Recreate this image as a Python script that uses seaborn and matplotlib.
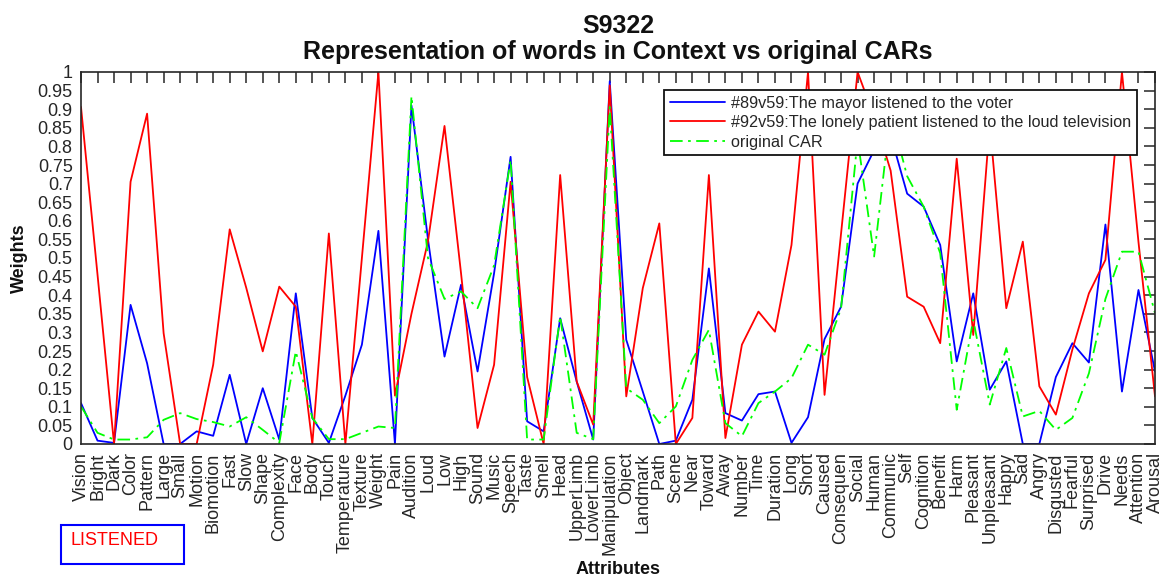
import numpy as np
import pandas as pd
import matplotlib
matplotlib.use("Agg")
import matplotlib.pyplot as plt
from matplotlib.patches import Rectangle
import seaborn as sns

# Attribute names along the x axis
attributes = [
    "Vision", "Bright", "Dark", "Color", "Pattern", "Large", "Small", "Motion",
    "Biomotion", "Fast", "Slow", "Shape", "Complexity", "Face", "Body", "Touch",
    "Temperature", "Texture", "Weight", "Pain", "Audition", "Loud", "Low", "High",
    "Sound", "Music", "Speech", "Taste", "Smell", "Head", "UpperLimb", "LowerLimb",
    "Manipulation", "Object", "Landmark", "Path", "Scene", "Near", "Toward", "Away",
    "Number", "Time", "Duration", "Long", "Short", "Caused", "Consequen", "Social",
    "Human", "Communic", "Self", "Cognition", "Benefit", "Harm", "Pleasant",
    "Unpleasant", "Happy", "Sad", "Angry", "Disgusted", "Fearful", "Surprised",
    "Drive", "Needs", "Attention", "Arousal",
]

# Weights for "#89v59: The mayor listened to the voter"
mayor_weights = [
    0.110, 0.009, 0.003, 0.374, 0.217, 0.000, 0.000, 0.034, 0.022, 0.186,
    0.000, 0.150, 0.012, 0.405, 0.070, 0.003, 0.130, 0.267, 0.573, 0.000,
    0.910, 0.550, 0.235, 0.428, 0.195, 0.459, 0.772, 0.061, 0.034, 0.338,
    0.168, 0.012, 0.975, 0.280, 0.141, 0.000, 0.009, 0.119, 0.472, 0.083,
    0.063, 0.134, 0.141, 0.003, 0.072, 0.282, 0.369, 0.700, 0.790, 0.830,
    0.673, 0.638, 0.535, 0.222, 0.405, 0.146, 0.222, 0.000, 0.000, 0.180,
    0.271, 0.219, 0.590, 0.141, 0.414, 0.195,
]

# Weights for "#92v59: The lonely patient listened to the loud television"
patient_weights = [
    0.906, 0.455, 0.000, 0.705, 0.888, 0.298, 0.000, 0.000, 0.213, 0.577,
    0.420, 0.249, 0.423, 0.369, 0.000, 0.566, 0.000, 0.500, 1.000, 0.130,
    0.350, 0.545, 0.855, 0.459, 0.043, 0.213, 0.705, 0.180, 0.000, 0.723,
    0.168, 0.052, 0.964, 0.128, 0.419, 0.593, 0.000, 0.070, 0.723, 0.016,
    0.267, 0.356, 0.302, 0.535, 1.000, 0.132, 0.566, 1.000, 0.880, 0.735,
    0.396, 0.369, 0.271, 0.767, 0.293, 0.860, 0.365, 0.544, 0.155, 0.079,
    0.254, 0.405, 0.495, 1.000, 0.543, 0.128,
]

# Original CAR weights of the word
car_weights = [
    0.101, 0.030, 0.012, 0.012, 0.018, 0.065, 0.083, 0.067, 0.059, 0.047,
    0.072, 0.038, 0.003, 0.249, 0.070, 0.013, 0.013, 0.030, 0.047, 0.043,
    0.935, 0.500, 0.390, 0.410, 0.365, 0.480, 0.763, 0.012, 0.012, 0.343,
    0.030, 0.013, 0.906, 0.150, 0.119, 0.056, 0.101, 0.226, 0.307, 0.056,
    0.021, 0.110, 0.141, 0.177, 0.267, 0.240, 0.365, 0.820, 0.504, 0.890,
    0.720, 0.638, 0.513, 0.092, 0.334, 0.106, 0.258, 0.074, 0.089, 0.038,
    0.070, 0.190, 0.390, 0.517, 0.517, 0.352,
]

series_labels = [
    "#89v59:The mayor listened to the voter",
    "#92v59:The lonely patient listened to the loud television",
    "original CAR",
]
y_ticks = [round(0.05 * k, 2) for k in range(21)]

sns.set_theme(style="white")
plt.rcParams["font.family"] = ["Liberation Sans", "DejaVu Sans"]
plt.rcParams["axes.edgecolor"] = "#262626"
plt.rcParams["text.color"] = "#262626"
plt.rcParams["xtick.color"] = "#262626"
plt.rcParams["ytick.color"] = "#262626"
plt.rcParams["axes.labelcolor"] = "#111111"

W, H = 1162, 582
fig = plt.figure(figsize=(W / 100, H / 100), dpi=100)
ax = fig.add_axes([81 / W, 1 - 444 / H, (1155 - 81) / W, (444 - 72) / H])

pos = np.arange(1, len(attributes) + 1)
frames = [
    pd.DataFrame({"pos": pos, "weight": mayor_weights}),
    pd.DataFrame({"pos": pos, "weight": patient_weights}),
    pd.DataFrame({"pos": pos, "weight": car_weights}),
]
colors = ["#0000ff", "#ff0000", "#00ff00"]

for df, col, lab in zip(frames, colors, series_labels):
    sns.lineplot(data=df, x="pos", y="weight", color=col, lw=1.3,
                 label=lab, ax=ax, estimator=None)
ax.lines[2].set_dashes((7, 3, 1.5, 3))

ax.set_xlim(1, len(attributes))
ax.set_ylim(0, 1)
ax.set_xticks(pos)
ax.set_xticklabels(attributes, rotation=90, fontsize=13, ha="center")
ax.set_yticks(y_ticks)
ax.set_yticklabels([f"{v:g}" for v in y_ticks], fontsize=13)
ax.tick_params(axis="both", which="major", direction="in", length=8,
               width=1.1, top=True, right=True)
ax.tick_params(axis="x", pad=6)
ax.tick_params(axis="y", pad=6)
for sp in ax.spines.values():
    sp.set_linewidth(1.2)
    sp.set_visible(True)

ax.set_xlabel("Attributes", fontsize=13, fontweight="bold")
ax.set_ylabel("Weights", fontsize=13, fontweight="bold")
ax.xaxis.set_label_coords(0.5, (444 - 561) / 372)
ax.yaxis.set_label_coords((28 - 81) / 1074, 0.5)

ax.set_title("S9322\nRepresentation of words in Context vs original CARs",
             fontsize=18, fontweight="bold", pad=9, color="#111111",
             linespacing=1.15)

leg = ax.legend(loc="upper right", bbox_to_anchor=(0.983, 0.952),
                borderaxespad=0, fontsize=11.7, frameon=True, fancybox=False,
                framealpha=1, edgecolor="#111111", handlelength=3.4,
                handletextpad=0.36, labelspacing=0.28, borderpad=0.35)
leg.get_frame().set_linewidth(1.3)

# Word label box in the lower-left corner
fig.patches.append(Rectangle((61 / W, 1 - 564 / H), (184 - 61) / W, (564 - 525) / H,
                             transform=fig.transFigure, fill=False,
                             edgecolor="#0000ff", lw=1.5))
fig.text(70 / W, 1 - 545 / H, "LISTENED", color="#ff0000", fontsize=13,
         va="baseline", ha="left")

fig.savefig("out.png", dpi=100, facecolor="white")
